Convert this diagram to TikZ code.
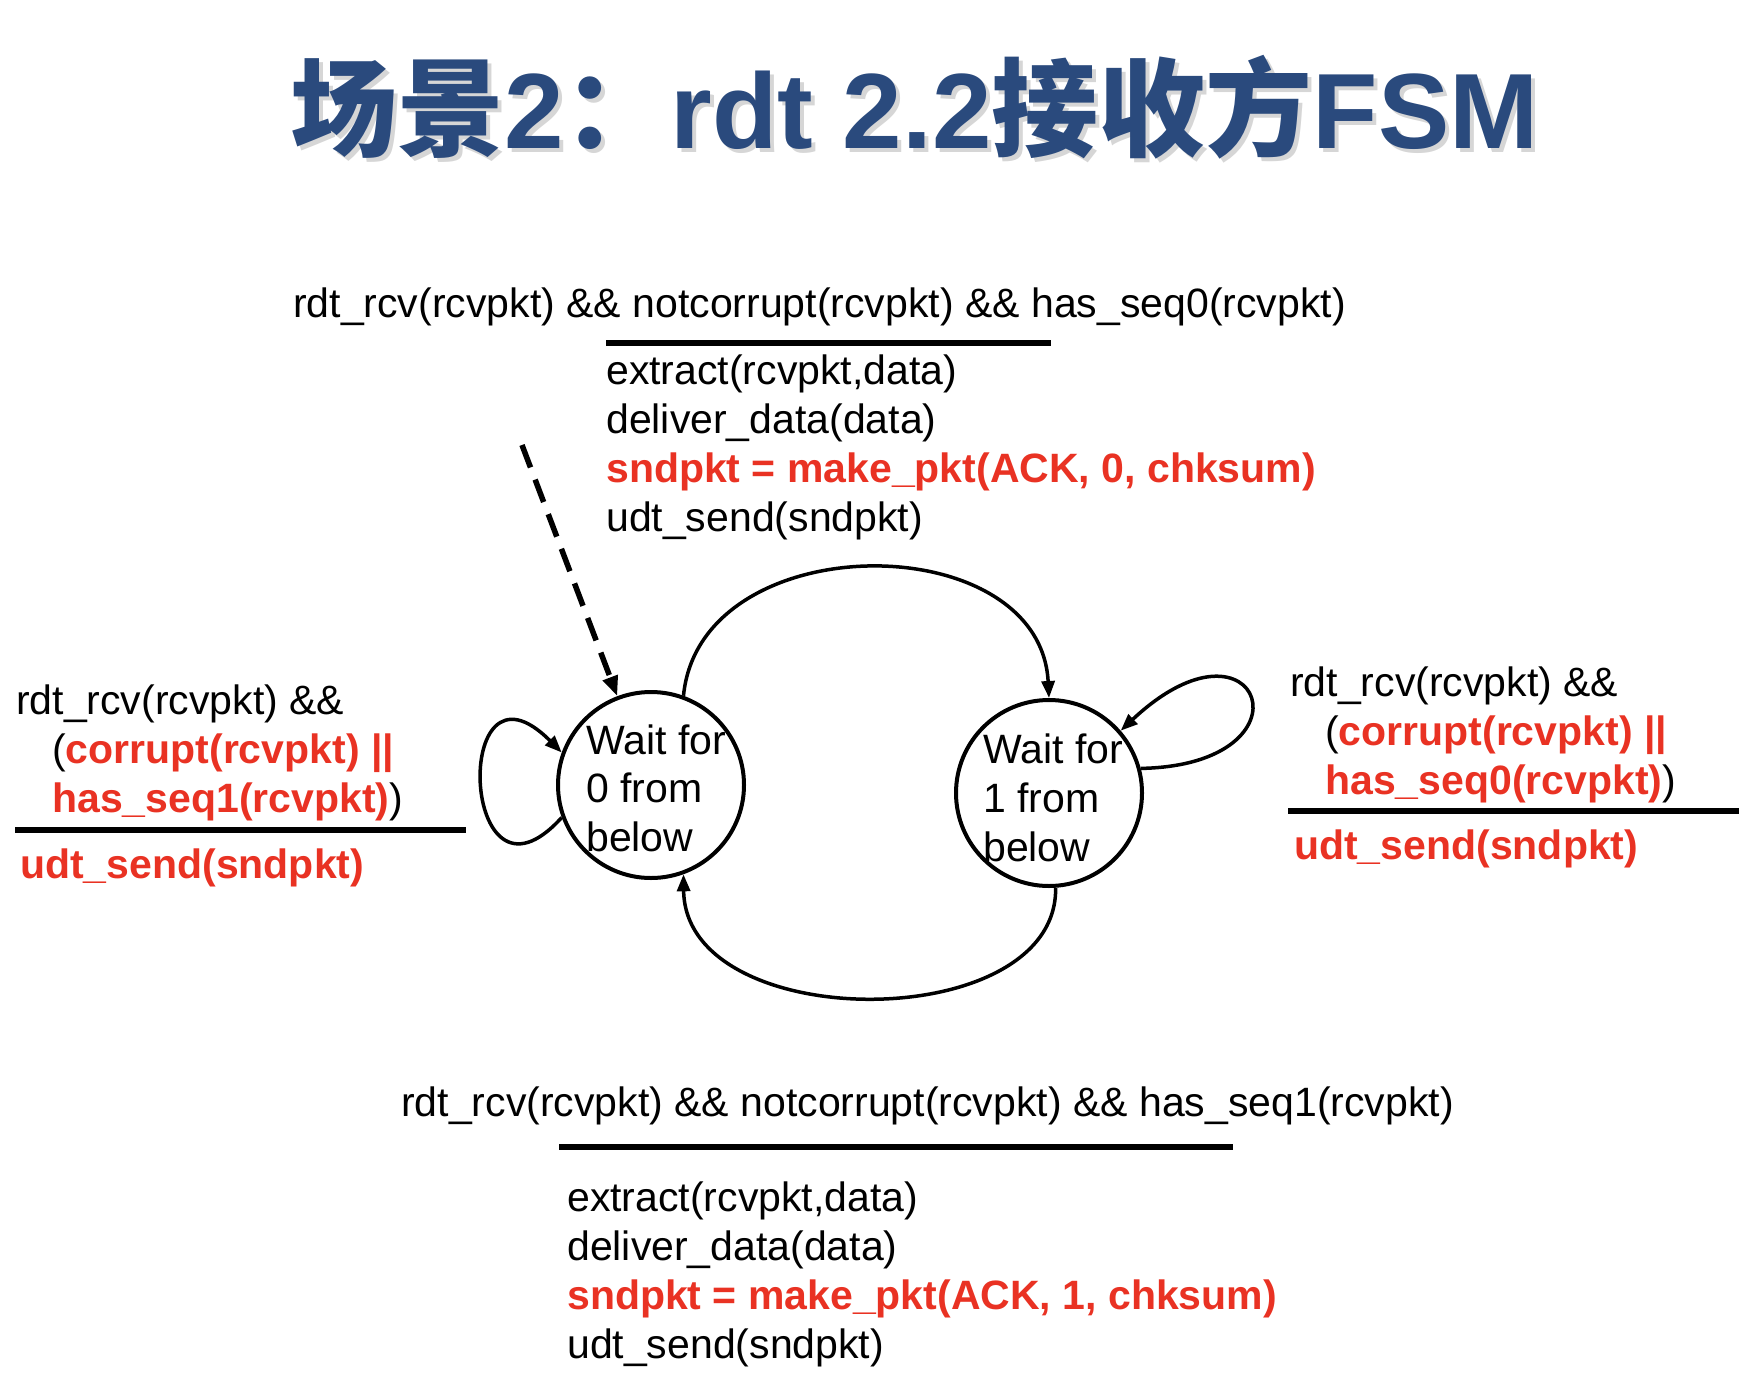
\documentclass[tikz,border=0pt]{standalone}
\usepackage{fontspec}
\setmainfont{Liberation Sans}
\newfontfamily\cjkb{Noto Sans CJK SC Bold}
\usetikzlibrary{arrows.meta}
\definecolor{tblue}{RGB}{42,74,125}
\definecolor{ared}{RGB}{233,50,35}
\newcommand{\rd}[1]{\textcolor{ared}{\bfseries #1}}
\newcommand{\mytitle}{{\cjkb 场景}2{\cjkb ：}rdt 2.2{\cjkb 接收方}FSM}
\begin{document}
\begin{tikzpicture}[x=1pt,y=-1pt,
 lbl/.style={inner sep=0pt, anchor=base west, align=left, font=\fontsize{41}{49}\selectfont},
 slbl/.style={lbl, font=\fontsize{41}{48.5}\selectfont},
 state/.style={circle, draw, line width=4pt, minimum size=186pt, inner sep=0pt},
 rulebar/.style={line width=6pt},
 trans/.style={line width=3.5pt, -{Triangle[length=17pt,width=13pt]}},
 init/.style={line width=5.5pt, dash pattern=on 24pt off 13pt, -{Triangle[length=20pt,width=15pt]}},
 ttl/.style={inner sep=0pt, anchor=base west, font=\fontsize{107}{110}\selectfont\bfseries},
]
\useasboundingbox (0,0) rectangle (1756,1378);
% title with soft shadow
\node[ttl, text=black, opacity=.16] (tshadow) at (294,153) {\mytitle};
\node[ttl, text=tblue] (title) at (290,149) {\mytitle};

% states
\node[state] (s0) at (651,785) {};
\node[state] (s1) at (1049,793) {};
\node[slbl] (t0) at (586,851) {Wait for\\0 from\\below};
\node[lbl] (t1) at (983,861) {Wait for\\1 from\\below};

% initial dashed arrow
\coordinate (d0) at (522,445);
\draw[init] (d0) -- (s0);

% transitions
\draw[trans] (s0.70) .. controls (700,525) and (1040,525) .. (s1.90);
\draw[trans] (s1.-86) .. controls (1058,1036) and (685,1036) .. (s0.-70);
\draw[trans] (s0.200) .. controls (460,930) and (450,640) .. (s0.160);
\draw[trans] (s1.15) .. controls (1320,765) and (1260,600) .. (s1.41);

% top label
\node[lbl] (g0) at (293,317) {rdt\_rcv(rcvpkt) \&\& notcorrupt(rcvpkt) \&\& has\_seq0(rcvpkt)};
\draw[rulebar] (606,343) -- (1051,343);
\node[lbl] (a0) at (606,531) {extract(rcvpkt,data)\\deliver\_data(data)\\\rd{sndpkt = make\_pkt(ACK, 0, chksum)}\\udt\_send(sndpkt)};

% left label
\node[lbl] (gl) at (16,812) {rdt\_rcv(rcvpkt) \&\&\\\hspace*{36pt}(\rd{corrupt(rcvpkt) ||}\\\hspace*{36pt}\rd{has\_seq1(rcvpkt)})};
\draw[rulebar] (15,830) -- (466,830);
\node[lbl] (al) at (20,878) {\rd{udt\_send(sndpkt)}};

% right label
\node[lbl] (gr) at (1290,794) {rdt\_rcv(rcvpkt) \&\&\\\hspace*{35pt}(\rd{corrupt(rcvpkt) ||}\\\hspace*{35pt}\rd{has\_seq0(rcvpkt)})};
\draw[rulebar] (1288,811) -- (1739,811);
\node[lbl] (ar) at (1294,859) {\rd{udt\_send(sndpkt)}};

% bottom label
\node[lbl] (g1) at (401,1116) {rdt\_rcv(rcvpkt) \&\& notcorrupt(rcvpkt) \&\& has\_seq1(rcvpkt)};
\draw[rulebar] (559,1147) -- (1233,1147);
\node[lbl] (a1) at (567,1358) {extract(rcvpkt,data)\\deliver\_data(data)\\\rd{sndpkt = make\_pkt(ACK, 1, chksum)}\\udt\_send(sndpkt)};
\end{tikzpicture}
\end{document}
